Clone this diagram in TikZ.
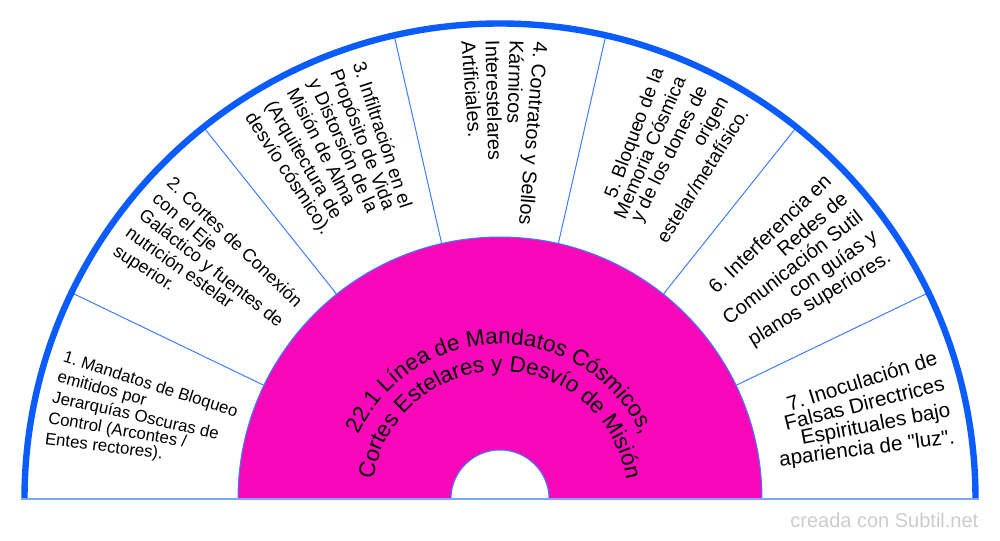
\documentclass[tikz,border=0pt]{standalone}
\usepackage{fontspec}
\setmainfont{Liberation Sans}
\usetikzlibrary{decorations.text}
\definecolor{rimblue}{HTML}{0A5CFF}
\definecolor{spokeblue}{HTML}{3D7EFF}
\definecolor{baseblue}{HTML}{7AA7FF}
\definecolor{hubpink}{HTML}{F808B8}
\definecolor{markgray}{HTML}{CCCCCC}
\newcommand{\hubfont}{\fontsize{16.9}{20}\selectfont}
\frenchspacing
\tikzstyle{spoke}=[draw=spokeblue, line width=0.75pt]
\tikzstyle{rim}=[draw=rimblue, line width=4.8pt]
\tikzstyle{hub}=[fill=hubpink, draw=spokeblue, line width=0.75pt]
\tikzstyle{inward}=[anchor=mid west, inner sep=0mm, text=black]
\tikzstyle{outward}=[anchor=mid east, inner sep=0mm, text=black]
\begin{document}
\begin{tikzpicture}[x=0.75pt, y=0.75pt]
    \useasboundingbox (-500,-41) rectangle (500,499);
    % spokes between the sectors
    \draw[spoke] (25.71:262) -- (25.71:475);
    \draw[spoke] (51.43:262) -- (51.43:475);
    \draw[spoke] (77.14:262) -- (77.14:475);
    \draw[spoke] (102.86:262) -- (102.86:475);
    \draw[spoke] (128.57:262) -- (128.57:475);
    \draw[spoke] (154.29:262) -- (154.29:475);
    % centre half ring
    \filldraw[hub] (-262,0) arc[start angle=180, end angle=0, radius=262]
        -- (49,0) arc[start angle=0, end angle=180, radius=49] -- cycle;
    \draw[rim] (-475.5,0) arc[start angle=180, end angle=0, radius=475.5];
    \draw[draw=baseblue, line width=1.5pt] (-479,0) -- (479,0);
    % title along two arcs
    \path[decorate, decoration={text along path, text align=center,
        text={|\hubfont|22.1 Línea de Mandatos Cósmicos,}}]
        (-155,0) arc[start angle=180, end angle=0, radius=155];
    \path[decorate, decoration={text along path, text align=center,
        text={|\hubfont|Cortes Estelares y Desvío de Misión}}]
        (-128,0) arc[start angle=180, end angle=0, radius=128];
    % sector 1
    \node[inward, rotate=-17.9, font=\fontsize{12.6}{15}\selectfont] at (162.1:459) (m1a) {1. Mandatos de Bloqueo};
    \node[inward, rotate=-15.25, font=\fontsize{12.6}{15}\selectfont] at (164.75:459) (m1b) {emitidos por};
    \node[inward, rotate=-12.6, font=\fontsize{12.6}{15}\selectfont] at (167.4:459) (m1c) {Jerarquías Oscuras de};
    \node[inward, rotate=-9.95, font=\fontsize{12.6}{15}\selectfont] at (170.05:459) (m1d) {Control (Arcontes /};
    \node[inward, rotate=-7.3, font=\fontsize{12.6}{15}\selectfont] at (172.7:459) (m1e) {Entes rectores).};
    % sector 2
    \node[inward, rotate=-43.7, font=\fontsize{13.5}{16}\selectfont] at (136.3:459) (m2a) {2. Cortes de Conexión};
    \node[inward, rotate=-41.0, font=\fontsize{13.5}{16}\selectfont] at (139.0:459) (m2b) {con el Eje};
    \node[inward, rotate=-38.3, font=\fontsize{13.5}{16}\selectfont] at (141.7:459) (m2c) {Galáctico y fuentes de};
    \node[inward, rotate=-35.5, font=\fontsize{13.5}{16}\selectfont] at (144.5:459) (m2d) {nutrición estelar};
    \node[inward, rotate=-32.7, font=\fontsize{13.5}{16}\selectfont] at (147.3:459) (m2e) {superior.};
    % sector 3
    \node[inward, rotate=-71.7, font=\fontsize{14.1}{17}\selectfont] at (108.3:459) (m3a) {3. Infiltración en el};
    \node[inward, rotate=-68.7, font=\fontsize{14.1}{17}\selectfont] at (111.3:459) (m3b) {Propósito de Vida};
    \node[inward, rotate=-65.7, font=\fontsize{14.1}{17}\selectfont] at (114.3:459) (m3c) {y Distorsión de la};
    \node[inward, rotate=-62.7, font=\fontsize{14.1}{17}\selectfont] at (117.3:459) (m3d) {Misión de Alma};
    \node[inward, rotate=-59.6, font=\fontsize{14.1}{17}\selectfont] at (120.4:459) (m3e) {(Arquitectura de};
    \node[inward, rotate=-56.6, font=\fontsize{14.1}{17}\selectfont] at (123.4:459) (m3f) {desvío cósmico).};
    % sector 4
    \node[inward, rotate=-94.7, font=\fontsize{14.9}{18}\selectfont] at (85.3:459) (m4a) {4. Contratos y Sellos};
    \node[inward, rotate=-91.67, font=\fontsize{14.9}{18}\selectfont] at (88.33:459) (m4b) {Kármicos};
    \node[inward, rotate=-88.63, font=\fontsize{14.9}{18}\selectfont] at (91.37:459) (m4c) {Interestelares};
    \node[inward, rotate=-85.6, font=\fontsize{14.9}{18}\selectfont] at (94.4:459) (m4d) {Artificiales.};
    % sector 5
    \node[outward, rotate=69.5, font=\fontsize{14.25}{17}\selectfont] at (69.5:459) (m5a) {5. Bloqueo de la};
    \node[outward, rotate=66.5, font=\fontsize{14.25}{17}\selectfont] at (66.5:459) (m5b) {Memoria Cósmica};
    \node[outward, rotate=63.5, font=\fontsize{14.25}{17}\selectfont] at (63.5:459) (m5c) {y de los dones de};
    \node[outward, rotate=60.5, font=\fontsize{14.25}{17}\selectfont] at (60.5:459) (m5d) {origen};
    \node[outward, rotate=57.5, font=\fontsize{14.25}{17}\selectfont] at (57.5:459) (m5e) {estelar/metafísico.};
    % sector 6
    \node[outward, rotate=44.0, font=\fontsize{15}{18}\selectfont] at (44.0:459) (m6a) {6. Interferencia en};
    \node[outward, rotate=40.9, font=\fontsize{15}{18}\selectfont] at (40.9:459) (m6b) {Redes de};
    \node[outward, rotate=37.9, font=\fontsize{15}{18}\selectfont] at (37.9:459) (m6c) {Comunicación Sutil};
    \node[outward, rotate=34.8, font=\fontsize{15}{18}\selectfont] at (34.8:459) (m6d) {con guías y};
    \node[outward, rotate=31.7, font=\fontsize{15}{18}\selectfont] at (31.7:459) (m6e) {planos superiores.};
    % sector 7
    \node[outward, rotate=17.5, font=\fontsize{15.5}{18}\selectfont] at (17.5:459) (m7a) {7. Inoculación de};
    \node[outward, rotate=14.15, font=\fontsize{15.5}{18}\selectfont] at (14.15:459) (m7b) {Falsas Directrices};
    \node[outward, rotate=10.8, font=\fontsize{15.5}{18}\selectfont] at (10.8:459) (m7c) {Espirituales bajo};
    \node[outward, rotate=7.4, font=\fontsize{15.5}{18}\selectfont] at (7.4:459) (m7d) {apariencia de \textquotedbl luz\textquotedbl.};
    \node[anchor=base east, text=markgray, font=\fontsize{15}{18}\selectfont] at (483,-28) (credit)
        {creada con Subtil.net};
\end{tikzpicture}
\end{document}
